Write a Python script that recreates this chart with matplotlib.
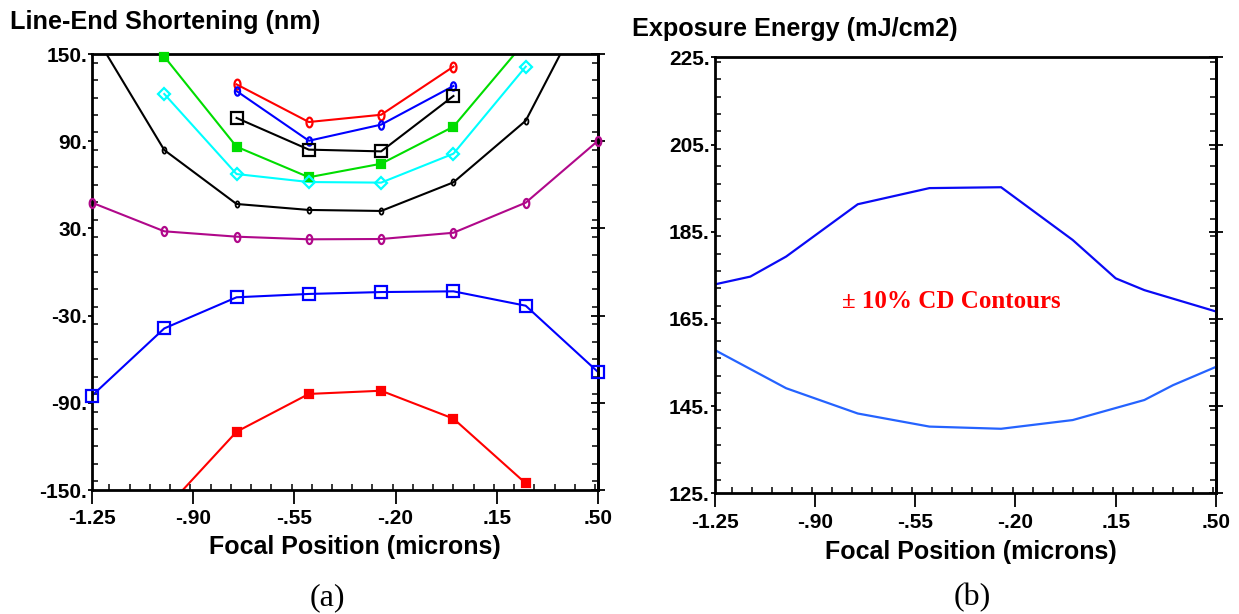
import numpy as np
import matplotlib
matplotlib.use("Agg")
import matplotlib.pyplot as plt
from matplotlib.path import Path
from matplotlib.ticker import MultipleLocator, FixedLocator, FuncFormatter

# ---------------- data: (a) line-end shortening ----------------
x_all = [-1.25, -1.0, -0.75, -0.5, -0.25, 0.0, 0.25, 0.5]
x_mid4 = [-0.75, -0.5, -0.25, 0.0]
x_m100_p25 = [-1.0, -0.75, -0.5, -0.25, 0.0, 0.25]

red_circ_y = [129.1, 103.2, 108.2, 141.3]
blue_circ_y = [124.5, 90.3, 101.4, 128.0]
black_sq_y = [106.0, 84.2, 83.0, 121.1]
green_sq_y = [148.2, 86.2, 65.2, 74.5, 100.0, 159.0]
cyan_dia_y = [122.5, 67.4, 61.9, 61.5, 81.4, 141.3]
black_circ_y = [166.5, 83.9, 46.8, 42.7, 42.0, 61.7, 104.1, 199.7]
purple_circ_y = [47.7, 28.0, 24.3, 22.5, 22.7, 27.0, 47.7, 90.3]
blue_sq_y = [-85.1, -38.8, -17.4, -15.1, -13.8, -13.3, -23.2, -68.8]
red_sq_y = [-163.8, -109.9, -83.9, -81.7, -100.9, -145.4]

# ---------------- data: (b) exposure energy contours ----------------
upper_x = [-1.25, -1.125, -1.0, -0.75, -0.5, -0.25, 0.0, 0.15, 0.25, 0.5]
upper_y = [172.9, 174.7, 179.3, 191.3, 195.0, 195.2, 183.1, 174.3, 171.6, 166.7]
lower_x = [-1.25, -1.0, -0.75, -0.5, -0.25, 0.0, 0.25, 0.35, 0.5]
lower_y = [157.9, 149.1, 143.3, 140.3, 139.8, 141.8, 146.4, 149.8, 154.0]

left_yticks = [150, 90, 30, -30, -90, -150]
right_yticks = [225, 205, 185, 165, 145, 125]
xticks = [-1.25, -0.90, -0.55, -0.20, 0.15, 0.50]

SANS = ["Liberation Sans", "DejaVu Sans"]
SERIF = ["Liberation Serif", "DejaVu Serif"]
plt.rcParams["font.family"] = SANS

fig = plt.figure(figsize=(12.39, 6.14), dpi=100)
W, H = 1239, 614


def axrect(x0, x1, ytop, ybot):
    return [x0 / W, 1 - ybot / H, (x1 - x0) / W, (ybot - ytop) / H]


ax1 = fig.add_axes(axrect(92, 598, 54, 490))
ax2 = fig.add_axes(axrect(714.5, 1216, 57.3, 493.3))

# ellipse marker like a small "0"
t = np.linspace(0, 2 * np.pi, 41)
ell = Path(np.c_[0.62 * np.cos(t), np.sin(t)], closed=True)


def fmt_x(v, pos):
    s = "%.2f" % v
    if s.startswith("0"):
        s = s[1:]
    elif s.startswith("-0"):
        s = "-" + s[2:]
    return s


def fmt_y(v, pos):
    return "%d." % int(round(v))


def series(ax, xs, ys, color, marker, ms, mfc="none", mew=1.6, lw=1.5):
    xs = np.asarray(xs)
    ys = np.asarray(ys)
    ax.plot(xs, ys, color=color, lw=lw, zorder=2)
    lo, hi = ax.get_ylim()
    mask = (ys >= lo - 0.5) & (ys <= hi + 0.5)
    ax.plot(xs[mask], ys[mask], ls="none", marker=marker, ms=ms, mfc=mfc,
            mec=color, mew=mew, clip_on=False, zorder=3)


ax1.set_xlim(-1.25, 0.5)
ax1.set_ylim(-150, 150)
ax2.set_xlim(-1.25, 0.5)
ax2.set_ylim(125, 225)

series(ax1, x_mid4, red_circ_y, "#ff0000", ell, 7)
series(ax1, x_mid4, blue_circ_y, "#0000ff", ell, 6)
series(ax1, x_mid4, black_sq_y, "#000000", "s", 8)
series(ax1, x_m100_p25, green_sq_y, "#00dd00", "s", 5.5, mfc="#00dd00")
series(ax1, x_m100_p25, cyan_dia_y, "#00ffff", "D", 6)
series(ax1, x_all, black_circ_y, "#000000", ell, 4.5, mew=1.3)
series(ax1, x_all, purple_circ_y, "#b0088a", ell, 6.5)
series(ax1, x_all, blue_sq_y, "#0000ff", "s", 8)
series(ax1, x_m100_p25, red_sq_y, "#ff0000", "s", 6, mfc="#ff0000")

ax2.plot(upper_x, upper_y, color="#0a0af5", lw=1.6, solid_joinstyle="miter")
ax2.plot(lower_x, lower_y, color="#2563ff", lw=1.6, solid_joinstyle="miter")
ax2.text(-0.423, 169.1, "\u00b1 10% CD Contours", color="#ff0000", fontsize=18,
         fontweight="bold", family=SERIF, ha="center", va="center")

for ax, yt, ystep in ((ax1, left_yticks, 12), (ax2, right_yticks, 4)):
    for sp in ax.spines.values():
        sp.set_linewidth(2.0)
    ax.xaxis.set_major_locator(FixedLocator(xticks))
    ax.xaxis.set_minor_locator(MultipleLocator(0.07))
    ax.xaxis.set_major_formatter(FuncFormatter(fmt_x))
    ax.yaxis.set_major_locator(FixedLocator(yt))
    ax.yaxis.set_minor_locator(MultipleLocator(ystep))
    ax.yaxis.set_major_formatter(FuncFormatter(fmt_y))
    ax.tick_params(axis="x", which="major", direction="out", length=10, width=1.3,
                   top=False, pad=4)
    ax.tick_params(axis="x", which="minor", direction="in", length=4, width=1.1, top=False)
    ax.tick_params(axis="y", which="major", direction="out", length=3, width=1.3,
                   right=False, pad=0.5)
    ax.tick_params(axis="y", which="minor", direction="in", length=4, width=1.1, right=False)
    for lab in ax.get_xticklabels() + ax.get_yticklabels():
        lab.set_fontweight("bold")
        lab.set_fontsize(15)
    sec = ax.secondary_yaxis("right")
    sec.spines["right"].set_linewidth(2.0)
    sec.yaxis.set_major_locator(FixedLocator(yt))
    sec.yaxis.set_minor_locator(MultipleLocator(ystep))
    sec.tick_params(axis="y", which="major", direction="inout", length=10, width=1.3,
                    labelright=False)
    sec.tick_params(axis="y", which="minor", direction="in", length=4, width=1.1)

fig.text(10 / W, 1 - 22 / H, "Line-End Shortening (nm)", fontsize=18.2,
         fontweight="bold", ha="left", va="center")
fig.text(632 / W, 1 - 29 / H, "Exposure Energy (mJ/cm2)", fontsize=18.2,
         fontweight="bold", ha="left", va="center")
fig.text(355 / W, 1 - 547 / H, "Focal Position (microns)", fontsize=18,
         fontweight="bold", ha="center", va="center")
fig.text(971 / W, 1 - 552 / H, "Focal Position (microns)", fontsize=18,
         fontweight="bold", ha="center", va="center")
fig.text(327 / W, 1 - 598 / H, "(a)", fontsize=23, family=SERIF, ha="center", va="center")
fig.text(972 / W, 1 - 598 / H, "(b)", fontsize=23, family=SERIF, ha="center", va="center")

fig.savefig("out.png", dpi=100)
